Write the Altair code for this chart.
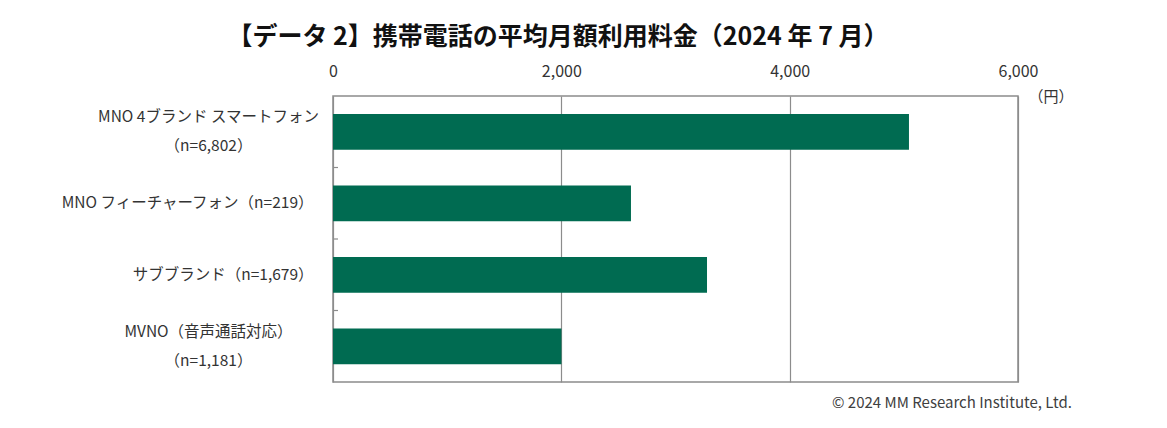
import altair as alt
import pandas as pd

categories = [
    "MNO 4ブランド スマートフォン|（n=6,802）",
    "MNO フィーチャーフォン（n=219）",
    "サブブランド（n=1,679）",
    "MVNO（音声通話対応）|（n=1,181）",
]
values = [5045, 2610, 3276, 2001]
x_ticks = [0, 2000, 4000, 6000]
title_text = "【データ 2】携帯電話の平均月額利用料金（2024 年 7 月）"
unit_text = "（円）"
credit_text = "© 2024 MM Research Institute, Ltd."

FONT = "Noto Sans CJK JP"
W, H = 685, 286
GRID = "#8c8c8c"
TWO = "indexof(datum.value, '|') >= 0"
P_IN, P_OUT = 0.5, 0.25
STEP = H / (len(categories) - P_IN + 2 * P_OUT)

df = pd.DataFrame({"cat": categories, "yen": values})
df_sep = pd.DataFrame({"cat": categories[:-1]})

x_enc = alt.X(
    "yen:Q",
    scale=alt.Scale(domain=[0, 6000], nice=False),
    axis=alt.Axis(
        orient="top",
        values=x_ticks,
        format=",d",
        labelFlush=False,
        ticks=False,
        domain=False,
        grid=True,
        gridColor=GRID,
        gridWidth=1.2,
        labelFont=FONT,
        labelFontSize=16,
        labelColor="#333333",
        labelPadding=17,
        title=None,
    ),
)

y_scale = alt.Scale(domain=categories, paddingInner=P_IN, paddingOuter=P_OUT)

bars = alt.Chart(df).mark_bar(color="#006b51").encode(
    x=x_enc,
    y=alt.Y(
        "cat:N",
        sort=None,
        scale=y_scale,
        axis=alt.Axis(
            title=None,
            labelExpr="split(datum.label, '|')",
            labelFont=FONT,
            labelFontSize=15.5,
            labelColor="#333333",
            labelLineHeight=29,
            labelBaseline="middle",
            labelLimit=0,
            domain=False,
            ticks=False,
            labelAlign={"condition": {"test": TWO, "value": "center"}, "value": "right"},
            labelPadding={"condition": {"test": TWO, "value": 125}, "value": 20},
            labelOffset={"condition": {"test": TWO, "value": -14.5}, "value": 0},
        ),
    ),
)

seps = alt.Chart(df_sep).mark_rule(color=GRID, strokeWidth=1.2, yOffset=STEP / 2).encode(
    y=alt.Y("cat:N", sort=None, scale=y_scale),
    x=alt.value(0),
    x2=alt.value(5),
)

unit = alt.Chart(pd.DataFrame({"t": [unit_text]})).mark_text(
    font=FONT, fontSize=15, color="#333333", align="center", baseline="middle"
).encode(text="t:N", x=alt.value(W + 33), y=alt.value(1))

credit = alt.Chart(pd.DataFrame({"t": [credit_text]})).mark_text(
    font=FONT, fontSize=15, color="#404040", align="right", baseline="middle"
).encode(text="t:N", x=alt.value(W + 54), y=alt.value(H + 21))

title = alt.Chart(pd.DataFrame({"t": [title_text]})).mark_text(
    font=FONT, fontSize=25, fontWeight="bold", color="#111111", align="center", baseline="middle"
).encode(text="t:N", x=alt.value(225), y=alt.value(-59))

chart = alt.layer(bars, seps, unit, credit, title).properties(
    width=W,
    height=H,
    autosize=alt.AutoSizeParams(type="none"),
    padding={"left": 325, "top": 88, "right": 120, "bottom": 30},
    background="white",
).configure_view(stroke=GRID, strokeWidth=1.5)

chart.save("out.html", embed_options={"renderer": "svg", "actions": False})
